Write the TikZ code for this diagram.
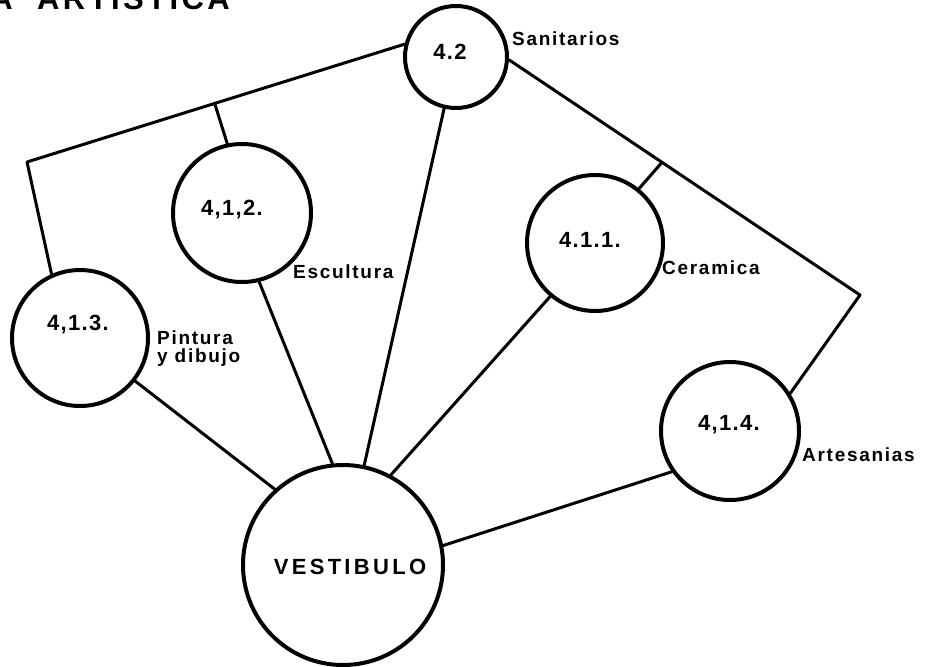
\documentclass[tikz,border=0pt]{standalone}
\usepackage{fontspec}
\setmainfont{Liberation Sans}
\usetikzlibrary{positioning,calc}

\begin{document}
\begin{tikzpicture}[
    x=1pt, y=-1pt,
    room/.style={draw, circle, line width=4pt, inner sep=0pt},
    num/.style={font=\bfseries\fontsize{22}{22}\selectfont\addfontfeature{LetterSpace=6}, inner sep=0pt},
    tag/.style={font=\bfseries\fontsize{19}{18}\selectfont\addfontfeature{LetterSpace=9}, inner sep=0pt, anchor=west, align=left},
    head/.style={font=\bfseries\fontsize{31}{31}\selectfont\addfontfeature{LetterSpace=11}, inner sep=0pt},
    link/.style={line width=3pt, line cap=round, line join=round}
]
\useasboundingbox (0,0) rectangle (952,666);

% title, cut by the top edge
\begin{scope}
\clip (0,0) rectangle (952,666);
\node[head, anchor=base east] (hda) at (13,10) {A};
\node[head, anchor=base west] (hdb) at (37,10) {ARTISTICA};
\end{scope}

% rooms
\node[room, minimum size=102pt] (c42) at (456,57) {};
\node[room, minimum size=138pt] (c412) at (242,213) {};
\node[room, minimum size=136pt] (c413) at (80,338) {};
\node[room, minimum size=136pt] (c411) at (595,243) {};
\node[room, minimum size=138pt] (c414) at (730,431) {};
\node[room, minimum size=200pt] (vest) at (343,565) {};

\node[num] (t42) at (450,52) {4.2};
\node[num] (t412) at (232,210) {4,1,2.};
\node[num] (t413) at (78,325) {4,1.3.};
\node[num] (t411) at (590,240) {4.1.1.};
\node[num] (t414) at (729,425) {4,1.4.};
\node[num, font=\bfseries\fontsize{22}{22}\selectfont\addfontfeature{LetterSpace=15}] (tvest) at (350,567) {VESTIBULO};

\node[tag] (lsan) at (512,39) {Sanitarios};
\node[tag] (lesc) at (293,272) {Escultura};
\node[tag] (lcer) at (662,268) {Ceramica};
\node[tag] (lpin) at (157,349) {Pintura\\y dibujo};
\node[tag] (lart) at (802,455) {Artesanias};

% links
\coordinate (kl) at (27,162);
\coordinate (kr) at (860,295);
\coordinate (s412) at ($(kl)!0.497!(c42.166)$);
\coordinate (s411) at ($(c42.-3)!0.436!(kr)$);

\draw[link] (c42.166) -- (kl) -- (c413.114);
\draw[link] (s412) -- (c412.102);
\draw[link] (c42.-3) -- (kr) -- (c414.32);
\draw[link] (s411) -- (c411.51);
\draw[link] (c413.-38) -- (vest.132);
\draw[link] (c412.-76) -- (vest.96);
\draw[link] (c42.-103) -- (vest.78);
\draw[link] (c411.-130) -- (vest.62);
\draw[link] (c414.-145) -- (vest.11);
\end{tikzpicture}
\end{document}
